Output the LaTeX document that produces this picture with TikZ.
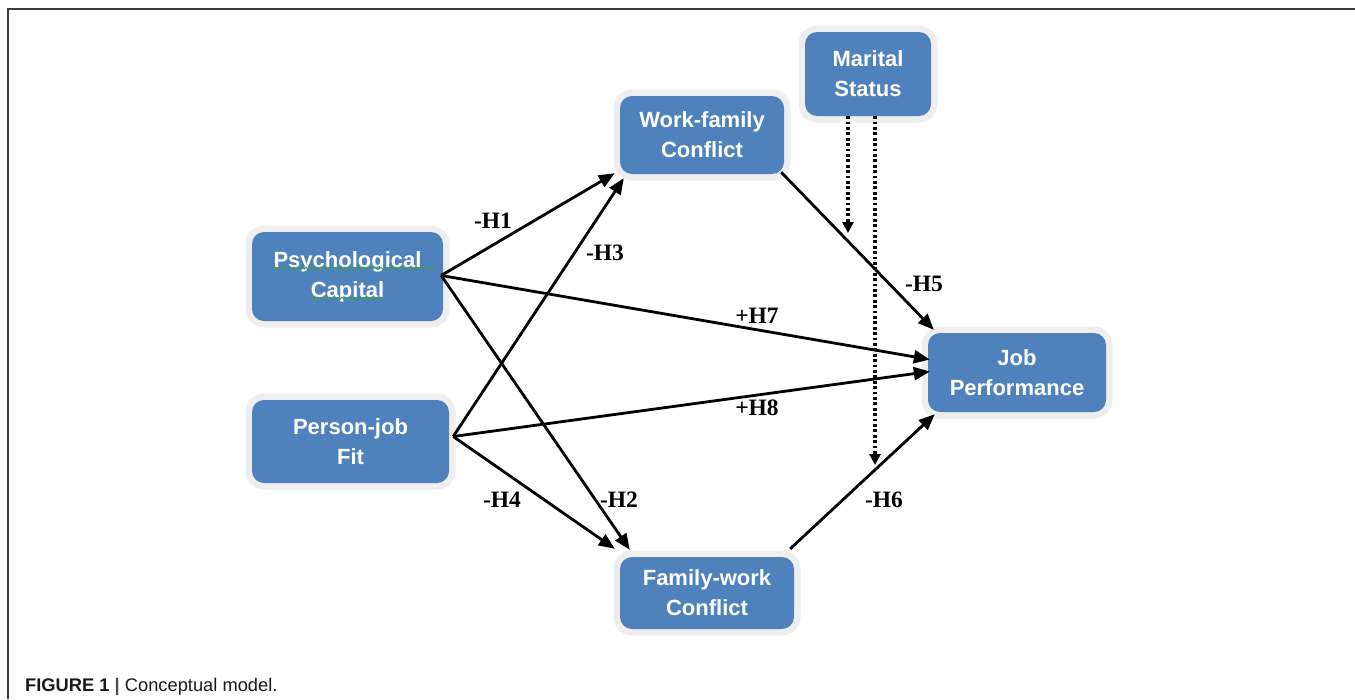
\documentclass[tikz,border=0pt]{standalone}
\usepackage{fontspec}
\setmainfont{Liberation Sans}
\newfontfamily\boxfont{Liberation Sans}
\newfontfamily\labfont{Liberation Serif}
\usetikzlibrary{arrows.meta,calc,decorations.pathmorphing}
\definecolor{boxblue}{RGB}{79,129,189}
\definecolor{halo}{RGB}{238,238,238}
\definecolor{framec}{RGB}{60,60,60}
\definecolor{spellgreen}{RGB}{60,160,70}
\tikzset{
  varbox/.style={rounded corners=12pt, fill=boxblue, preaction={draw=halo, line width=13pt},
    text=white, align=center, inner sep=0pt,
    font=\boxfont\bfseries\fontsize{22}{30}\selectfont},
  arr/.style={line width=2.8pt, -{Triangle[length=16pt,width=13pt]}},
  dotarr/.style={line width=3.6pt, dash pattern=on 2.8pt off 2.6pt, -{Triangle[length=11pt,width=11pt]}},
  hlab/.style={font=\labfont\bfseries\fontsize{23.5}{26}\selectfont, inner sep=0pt},
  spell/.style={spellgreen, line width=0.8pt, decorate, decoration={snake, amplitude=0.9pt, segment length=3pt}}
}
\begin{document}
\begin{tikzpicture}[x=1pt,y=-1pt]
\useasboundingbox (0,0) rectangle (1355,699);
% frame
\draw[framec, line width=2pt] (8,699) -- (8,9) -- (1355,9);
% nodes
\node[varbox, minimum width=191pt, minimum height=89pt] (pc) at (347.5,276.5) {Psychological\\Capital};
\node[varbox, minimum width=197pt, minimum height=83pt] (pjf) at (350.5,441.5) {Person-job\\Fit};
\node[varbox, minimum width=164pt, minimum height=78pt] (wfc) at (702,135) {Work-family\\Conflict};
\node[varbox, minimum width=174pt, minimum height=72pt] (fwc) at (707,593) {Family-work\\Conflict};
\node[varbox, minimum width=126pt, minimum height=84pt] (ms) at (868,74) {Marital\\Status};
\node[varbox, minimum width=178pt, minimum height=79pt] (jp) at (1017,372.5) {Job\\Performance};
% spell-check underlines
\draw[spell] (272,268) -- (436,268);
\draw[spell] (311,298) -- (384,298);
% source coordinates
\coordinate (pcS) at ($(pc.east)+(-2,-1)$);
\coordinate (pjfS) at ($(pjf.east)+(4,-5)$);
% arrows
\draw[arr] (pcS) -- ($(wfc.south west)+(-5,-1)$);
\draw[arr] (pjfS) -- ($(wfc.south west)+(4,4)$);
\draw[arr] (pcS) -- ($(fwc.north west)+(10,-7)$);
\draw[arr] (pjfS) -- ($(fwc.north west)+(-5,-8)$);
\draw[arr] (pcS) -- ($(jp.west)+(2,-13)$);
\draw[arr] (pjfS) -- ($(jp.west)+(2,-1)$);
\draw[arr] ($(wfc.south east)+(-3,-2)$) -- ($(jp.north west)+(6,-3)$);
\draw[arr] ($(fwc.north east)+(-4,-8)$) -- ($(jp.south west)+(7,2)$);
% moderator dotted arrows
\coordinate (m1) at (848,233);
\coordinate (m2) at (875,465);
\draw[dotarr] (ms.south -| m1) -- (m1);
\draw[dotarr] (ms.south -| m2) -- (m2);
% labels
\node[hlab] (l1) at (493,221) {-H1};
\node[hlab] (l3) at (605,253) {-H3};
\node[hlab] (l5) at (924,284) {-H5};
\node[hlab] (l7) at (757,316) {+H7};
\node[hlab] (l8) at (757,408) {+H8};
\node[hlab] (l4) at (502,500) {-H4};
\node[hlab] (l2) at (619,500) {-H2};
\node[hlab] (l6) at (884,500) {-H6};
% caption
\node[anchor=base west, inner sep=0pt, text=black!90, font=\fontsize{18.3}{20}\selectfont] (cap) at (25,691)
  {\textbf{FIGURE 1} {\color{black!70}\textbf{|}} Conceptual model.};
\end{tikzpicture}
\end{document}
